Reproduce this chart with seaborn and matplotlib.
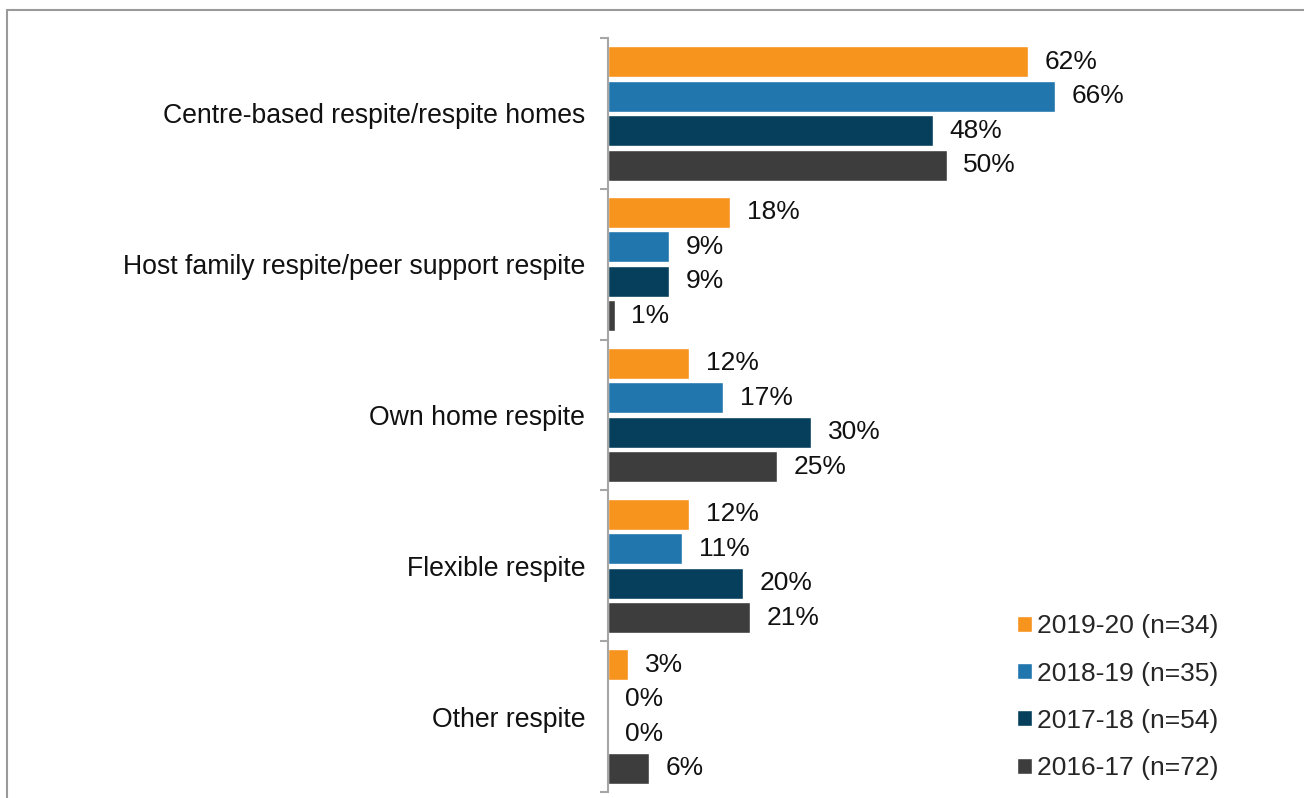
import matplotlib
matplotlib.use("Agg")
import matplotlib.pyplot as plt
from matplotlib.lines import Line2D
from matplotlib.ticker import FixedLocator
import numpy as np
import pandas as pd
import seaborn as sns

categories = [
    "Centre-based respite/respite homes",
    "Host family respite/peer support respite",
    "Own home respite",
    "Flexible respite",
    "Other respite",
]
years = ["2019-20 (n=34)", "2018-19 (n=35)", "2017-18 (n=54)", "2016-17 (n=72)"]
values_2019_20 = [62, 18, 12, 12, 3]
values_2018_19 = [66, 9, 17, 11, 0]
values_2017_18 = [48, 9, 30, 20, 0]
values_2016_17 = [50, 1, 25, 21, 6]
colors = ["#F7941E", "#2177AD", "#063F5C", "#3D3D3D"]

series = [values_2019_20, values_2018_19, values_2017_18, values_2016_17]
df = pd.DataFrame(
    [(c, y, v) for y, vals in zip(years, series) for c, v in zip(categories, vals)],
    columns=["category", "year", "value"],
)

sns.set_theme(style="white")
plt.rcParams["font.family"] = ["Liberation Sans", "DejaVu Sans"]

fig = plt.figure(figsize=(13.04, 7.98), dpi=100)
ax = fig.add_axes([608 / 1304, 1 - 792 / 798, 677 / 1304, (792 - 38) / 798])

sns.barplot(
    data=df, y="category", x="value", hue="year", order=categories,
    hue_order=years, palette=colors, orient="h", width=0.915, gap=0.1,
    saturation=1, ax=ax, legend=True,
)

for cont in ax.containers:
    vals = [r.get_width() for r in cont]
    ax.bar_label(cont, labels=[f"{v:.0f}%" for v in vals], padding=12,
                 fontsize=19, color="#111111")

ax.set_xlim(0, 100)
ax.set_ylim(len(categories) - 0.5, -0.5)
ax.set_xlabel("")
ax.set_ylabel("")
ax.set_xticks([])

for s in ["top", "right", "bottom"]:
    ax.spines[s].set_visible(False)
ax.spines["left"].set_color("#A6A6A6")
ax.spines["left"].set_linewidth(1.5)

ax.yaxis.set_minor_locator(FixedLocator(np.arange(-0.5, len(categories), 1.0)))
ax.tick_params(axis="y", which="major", length=0, pad=16.5, labelsize=19.2,
               labelcolor="#111111")
ax.tick_params(axis="y", which="minor", length=6, width=1.5, color="#A6A6A6",
               left=True)

handles, labels = ax.get_legend_handles_labels()
ax.legend(
    handles, labels, loc="lower left", bbox_to_anchor=(1017 / 1304, 1 - 780 / 798),
    bbox_transform=fig.transFigure, frameon=False, fontsize=19,
    handlelength=0.55, handleheight=0.55, handletextpad=0.2, labelspacing=0.88,
    borderaxespad=0, borderpad=0,
)

# outer frame lines along the top and left edges
fig.add_artist(Line2D([7 / 1304, 1], [1 - 10 / 798, 1 - 10 / 798],
                      transform=fig.transFigure, color="#9A9A9A", lw=1.5))
fig.add_artist(Line2D([7 / 1304, 7 / 1304], [0, 1 - 10 / 798],
                      transform=fig.transFigure, color="#9A9A9A", lw=1.5))

fig.savefig("out.png", dpi=100)
